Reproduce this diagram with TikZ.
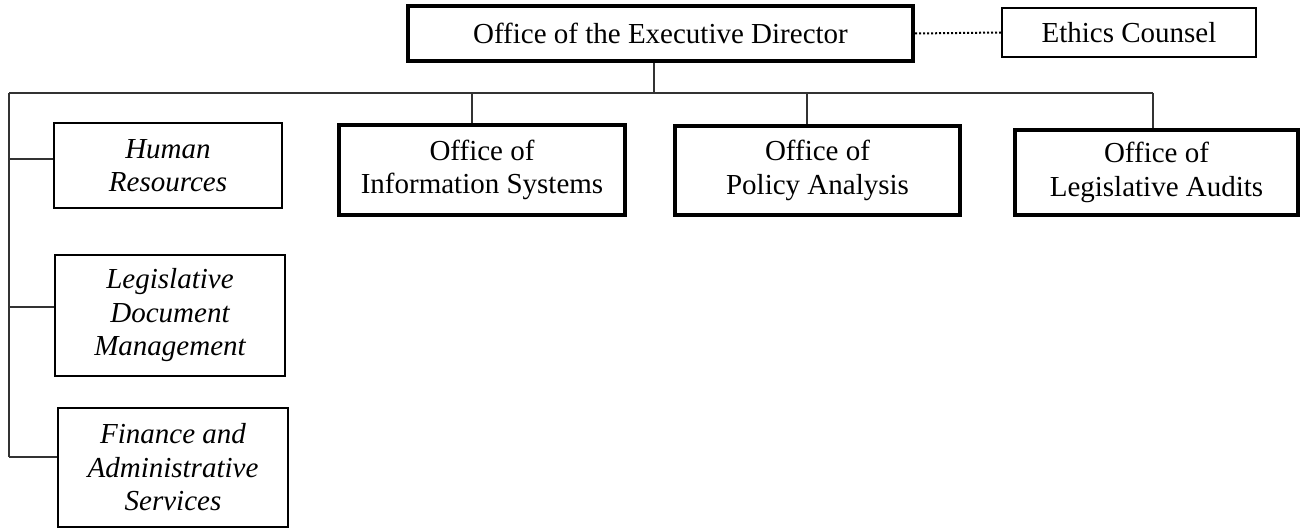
\documentclass[tikz,border=0pt]{standalone}
\usepackage{fontspec}
\setmainfont{Liberation Serif}
\begin{document}
\begin{tikzpicture}[x=1pt,y=-1pt,
  every node/.style={font=\fontsize{29}{33.5}\selectfont, align=center, inner sep=0pt},
  thickbox/.style={draw, line width=4pt, minimum width=#1},
  thinbox/.style={draw, line width=1.8pt, font=\fontsize{29}{33.5}\selectfont\itshape},
  conn/.style={draw, line width=1.2pt, black!80}]
\useasboundingbox (0,0) rectangle (1301,529);
% top level
\node[thickbox=505pt, minimum height=55pt] (exec) at (660.5,33.5) {Office of the Executive Director};
\node[draw, line width=1.8pt, minimum width=254pt, minimum height=49pt] (ethics) at (1129,32.5) {Ethics Counsel};
% offices
\node[thickbox=286pt, minimum height=90pt] (info) at (482,170) {Office of\\Information Systems};
\node[thickbox=285pt, minimum height=89pt] (policy) at (817.5,170.5) {Office of\\Policy Analysis};
\node[thickbox=283pt, minimum height=85pt] (audits) at (1156.5,172.5) {Office of\\Legislative Audits};
% staff units
\node[thinbox, minimum width=228pt, minimum height=85pt] (hr) at (168,165.5) {Human\\Resources};
\node[thinbox, minimum width=230pt, minimum height=121pt] (ldm) at (170,315.5) {Legislative\\Document\\Management};
\node[thinbox, minimum width=230pt, minimum height=119pt] (fin) at (173,467.5) {Finance and\\Administrative\\Services};
% bus
\coordinate (busL) at (9,93);
\coordinate (busR) at (1153,93);
\draw[conn] (busL) -- (busR);
% connectors
\draw[dotted, line width=2pt] (exec.east) -- (ethics.west);
\draw[conn] ([xshift=-6.5pt]exec.south) -- ([xshift=-6.5pt]exec.south |- busL);
\draw[conn] ([xshift=-10pt]info.north) -- ([xshift=-10pt]info.north |- busL);
\draw[conn] ([xshift=-10.5pt]policy.north) -- ([xshift=-10.5pt]policy.north |- busL);
\draw[conn] (busR) -- (busR |- audits.north);
\coordinate (leftEnd) at (9,457);
\draw[conn] (busL) -- (leftEnd);
\draw[conn] ([yshift=6.5pt]hr.west) -- ([yshift=6.5pt]hr.west -| busL);
\draw[conn] ([yshift=8.5pt]ldm.west) -- ([yshift=8.5pt]ldm.west -| busL);
\draw[conn] (leftEnd -| fin.west) -- (leftEnd);
\end{tikzpicture}
\end{document}
